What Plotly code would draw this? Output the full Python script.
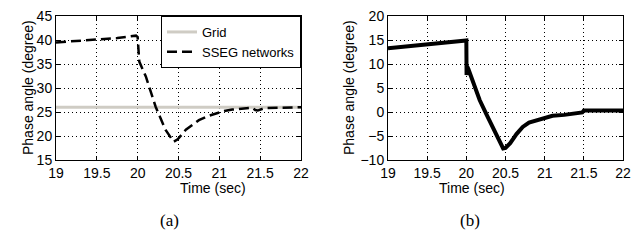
import plotly.graph_objects as go

# Panel (a)
grid_t = [19.0, 22.0]
grid_v = [26.0, 26.0]
sseg_t = [19.0, 19.25, 19.5, 19.75, 19.98, 20.0, 20.01, 20.02, 20.1, 20.22, 20.34, 20.44, 20.49,
          20.59, 20.75, 20.87, 20.96, 21.06, 21.16, 21.3, 21.4, 21.44, 21.47, 21.55, 21.7, 22.0]
sseg_v = [39.5, 39.8, 40.1, 40.4, 40.9, 40.6, 38.0, 35.5, 32.4, 26.1, 21.3, 18.8, 19.3,
          21.3, 23.3, 24.2, 24.7, 25.2, 25.5, 25.8, 25.9, 25.4, 25.3, 25.8, 25.9, 26.0]

# Panel (b)
b_t = [19.0, 19.5, 19.98, 20.0, 20.003, 20.01, 20.025, 20.09, 20.17, 20.26, 20.33, 20.39, 20.44,
       20.47, 20.5, 20.56, 20.64, 20.72, 20.8, 20.9, 21.0, 21.1, 21.25, 21.4, 21.48, 21.5, 22.0]
b_v = [13.3, 14.1, 15.0, 14.9, 7.7, 9.5, 9.0, 6.0, 2.5, -0.6, -3.0, -5.1, -6.8,
       -7.6, -7.5, -6.5, -4.6, -3.1, -2.2, -1.7, -1.2, -0.8, -0.6, -0.3, -0.1, 0.3, 0.3]

x_ticks = [19, 19.5, 20, 20.5, 21, 21.5, 22]
x_ticklabels = ["19", "19.5", "20", "20.5", "21", "21.5", "22"]
ya_ticks = [15, 20, 25, 30, 35, 40, 45]
yb_ticks = [-10, -5, 0, 5, 10, 15, 20]

W, H = 631, 244
FONT = "Liberation Sans, Arial, sans-serif"
SERIF = "Liberation Serif, Times New Roman, serif"
FS = 14

fig = go.Figure()
fig.add_trace(go.Scatter(x=grid_t, y=grid_v, mode="lines", name="Grid",
                         line=dict(color="#cfccc4", width=3), xaxis="x", yaxis="y"))
fig.add_trace(go.Scatter(x=sseg_t, y=sseg_v, mode="lines", name="SSEG networks",
                         line=dict(color="black", width=2.5, dash="10px,5px"), xaxis="x", yaxis="y"))
fig.add_trace(go.Scatter(x=b_t, y=b_v, mode="lines", showlegend=False,
                         line=dict(color="black", width=4), xaxis="x2", yaxis="y2"))

common = dict(showline=True, linecolor="black", linewidth=1, mirror="ticks", ticks="inside",
              ticklen=4, tickcolor="black", showgrid=True, gridcolor="black", gridwidth=1,
              griddash="1px,3px", zeroline=False, automargin=False, ticklabeloverflow="allow",
              tickfont=dict(size=FS, family=FONT, color="black"))

def xax(domain, anchor):
    return dict(domain=domain, anchor=anchor, range=[19, 22], tickvals=x_ticks, ticktext=x_ticklabels,
                **common)

def yax(domain, anchor, rng, ticks):
    return dict(domain=domain, anchor=anchor, range=rng, tickvals=ticks, **common)

ydom = [1 - 160 / H, 1 - 16 / H]
ymid = 1 - 88 / H

annotations = []
for xc_title, yl_x, cap, cap_x in [((56 + 301) / 2, 18, "(a)", 158), ((388 + 623) / 2, 349, "(b)", 482)]:
    annotations.append(dict(text="Time (sec)", x=xc_title / W, y=1 - 197 / H, xref="paper", yref="paper",
                            showarrow=False, borderpad=0, font=dict(size=FS, family=FONT, color="black")))
    annotations.append(dict(text="Phase angle (degree)", x=yl_x / W, y=ymid, xref="paper", yref="paper",
                            textangle=-90, showarrow=False, font=dict(size=FS, family=FONT, color="black")))
    annotations.append(dict(text=cap, x=cap_x / W, y=1 - 232 / H, xref="paper", yref="paper",
                            showarrow=False, font=dict(size=17, family=SERIF, color="black")))

fig.update_layout(
    width=W, height=H, margin=dict(l=0, r=0, t=0, b=0, autoexpand=False),
    paper_bgcolor="white", plot_bgcolor="white",
    font=dict(family=FONT, color="black"),
    xaxis=xax([56 / W, 301 / W], "y"),
    yaxis=yax(ydom, "x", [15, 45], ya_ticks),
    xaxis2=xax([388 / W, 623 / W], "y2"),
    yaxis2=yax(ydom, "x2", [-10, 20], yb_ticks),
    legend=dict(x=301 / W, y=ydom[1], xanchor="right", yanchor="top", xref="paper", yref="paper",
                bgcolor="white", bordercolor="black", borderwidth=1,
                font=dict(size=13, family=FONT, color="black"), tracegroupgap=0, itemwidth=30),
    showlegend=True,
    annotations=annotations,
)

fig.write_html("out.html", config={"displayModeBar": False},
               post_script="document.body.style.margin='0';document.body.style.overflow='hidden';")
